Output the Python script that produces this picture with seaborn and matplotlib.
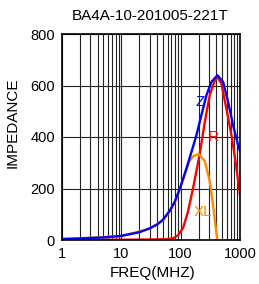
import matplotlib
matplotlib.use("Agg")
import matplotlib.pyplot as plt
import seaborn as sns
import pandas as pd
from matplotlib.ticker import FixedLocator, NullFormatter, LogLocator

title = "BA4A-10-201005-221T"
x_label = "FREQ(MHZ)"
y_label = "IMPEDANCE"

freq_z = [1, 2, 5, 10, 20, 30, 40, 50, 66, 80, 97.6, 126, 152, 184, 223, 272, 330, 416, 519, 631, 766, 929, 1000]
z_vals = [4, 6, 10, 16, 30, 45, 60, 78, 115, 150, 202, 280, 342, 406, 484, 562, 614, 640, 614, 536, 445, 368, 345]

freq_r = [1, 10, 30, 60, 75, 90, 110, 133, 162, 184, 210, 255, 309, 376, 416, 486, 590, 716, 796, 870, 1000]
r_vals = [1, 1, 2, 3, 7, 18, 47, 111, 202, 267, 336, 458, 562, 620, 633, 607, 510, 408, 342, 280, 175]

freq_xl = [1, 10, 30, 50, 66, 80, 97.6, 126, 140, 162, 201, 255, 309, 351, 385, 416]
xl_vals = [3, 15, 44, 76, 113, 148, 198, 276, 305, 325, 334, 306, 228, 137, 59, 0]

x_ticks = [1, 10, 100, 1000]
x_ticklabels = ["1", "10", "100", "1000"]
y_ticks = [0, 200, 400, 600, 800]

df_z = pd.DataFrame({"freq": freq_z, "val": z_vals})
df_r = pd.DataFrame({"freq": freq_r, "val": r_vals})
df_xl = pd.DataFrame({"freq": freq_xl, "val": xl_vals})

sns.set_style("white")
plt.rcParams["font.family"] = ["Liberation Sans", "DejaVu Sans"]
plt.rcParams["text.color"] = "black"
plt.rcParams["axes.labelcolor"] = "black"
plt.rcParams["xtick.color"] = "black"
plt.rcParams["ytick.color"] = "black"

W, H = 259, 284
fig = plt.figure(figsize=(W / 100, H / 100), dpi=100)
ax = fig.add_axes([62 / W, 44 / H, 178 / W, 206 / H])

ax.set_xscale("log")
ax.set_xlim(1, 1000)
ax.set_ylim(0, 800)

ax.xaxis.set_major_locator(FixedLocator(x_ticks))
ax.set_xticklabels(x_ticklabels)
ax.xaxis.set_minor_locator(LogLocator(base=10, subs=range(2, 10)))
ax.xaxis.set_minor_formatter(NullFormatter())
ax.set_yticks(y_ticks)

ax.grid(which="both", axis="x", color="#222222", lw=0.8)
ax.grid(which="major", axis="y", color="#222222", lw=0.8)
ax.set_axisbelow(True)

sns.lineplot(data=df_r, x="freq", y="val", color="#ff0000", lw=1.7, ax=ax)
sns.lineplot(data=df_xl, x="freq", y="val", color="#ff8c00", lw=1.7, ax=ax)
sns.lineplot(data=df_z, x="freq", y="val", color="#0000ff", lw=1.7, ax=ax)

ax.text(212, 537, "Z", color="#0000ff", fontsize=11, ha="center", va="center")
ax.text(348, 399, "R", color="#ff0000", fontsize=11, ha="center", va="center")
ax.text(241, 109, "XL", color="#ff8c00", fontsize=11, ha="center", va="center")

for s in ax.spines.values():
    s.set_color("black")
    s.set_linewidth(1.2)

ax.tick_params(axis="both", which="both", length=0, labelsize=10.5, pad=5,
               colors="black", labelcolor="black")
ax.set_xlabel("")
ax.set_ylabel("")

fig.text(150 / W, 1 - 15.5 / H, title, fontsize=11, ha="center", va="center", color="black")
fig.text(152.5 / W, 1 - 273.5 / H, x_label, fontsize=11, ha="center", va="center", color="black")
fig.text(12.5 / W, 1 - 123 / H, y_label, fontsize=11, ha="center", va="center",
         rotation=90, color="black")

fig.savefig("out.png", dpi=100)
